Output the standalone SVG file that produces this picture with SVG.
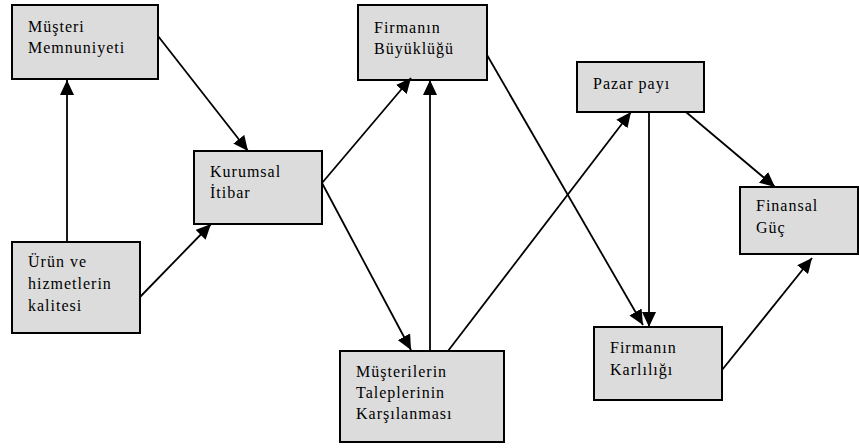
<svg xmlns="http://www.w3.org/2000/svg" width="859" height="448" viewBox="0 0 859 448">
<style>
.box{fill:#dcdcdc;stroke:#000;stroke-width:2}
text{font-family:'Liberation Serif','Times New Roman',serif;font-size:16px;letter-spacing:1px;fill:#000}
.c line{stroke:#000;stroke-width:1.8;marker-end:url(#ah)}
</style>
<defs>
<marker id="ah" markerUnits="userSpaceOnUse" markerWidth="15" markerHeight="14" refX="15" refY="7" orient="auto">
<path d="M0,0 L15,7 L0,14 z" fill="#000"/>
</marker>
</defs>
<rect width="859" height="448" fill="#fff"/>
<g id="musteri-memnuniyeti">
<rect class="box" x="12" y="5" width="146" height="74"/>
<text x="28" y="32">Müşteri</text>
<text x="28" y="53">Memnuniyeti</text>
</g>
<g id="kurumsal-itibar">
<rect class="box" x="194" y="151" width="128" height="73"/>
<text x="210" y="177">Kurumsal</text>
<text x="210" y="198">İtibar</text>
</g>
<g id="urun-kalitesi">
<rect class="box" x="12" y="242" width="128" height="91"/>
<text x="28" y="267">Ürün ve</text>
<text x="28" y="289">hizmetlerin</text>
<text x="28" y="311">kalitesi</text>
</g>
<g id="firma-buyuklugu">
<rect class="box" x="358" y="5" width="129" height="75"/>
<text x="374" y="33">Firmanın</text>
<text x="374" y="54">Büyüklüğü</text>
</g>
<g id="pazar-payi">
<rect class="box" x="577" y="62" width="127" height="50"/>
<text x="593" y="89">Pazar payı</text>
</g>
<g id="finansal-guc">
<rect class="box" x="740" y="187" width="118" height="67"/>
<text x="756" y="211">Finansal</text>
<text x="756" y="233">Güç</text>
</g>
<g id="musteri-talepleri">
<rect class="box" x="340" y="351" width="164" height="91"/>
<text x="356" y="377">Müşterilerin</text>
<text x="356" y="398">Taleplerinin</text>
<text x="356" y="419">Karşılanması</text>
</g>
<g id="firma-karliligi">
<rect class="box" x="594" y="327" width="128" height="73"/>
<text x="610" y="353">Firmanın</text>
<text x="610" y="375">Karlılığı</text>
</g>
<g id="connectors" class="c">
<line x1="67" y1="242" x2="67" y2="80"/>
<line x1="158" y1="36" x2="248" y2="151"/>
<line x1="140" y1="297" x2="211" y2="224"/>
<line x1="322" y1="183" x2="411" y2="78"/>
<line x1="322" y1="183" x2="411" y2="350"/>
<line x1="430" y1="351" x2="430" y2="80"/>
<line x1="487" y1="55" x2="643" y2="325"/>
<line x1="448" y1="351" x2="631" y2="112"/>
<line x1="649" y1="112" x2="649" y2="327"/>
<line x1="686" y1="112" x2="775" y2="187"/>
<line x1="722" y1="370" x2="812" y2="258"/>
</g>
</svg>
